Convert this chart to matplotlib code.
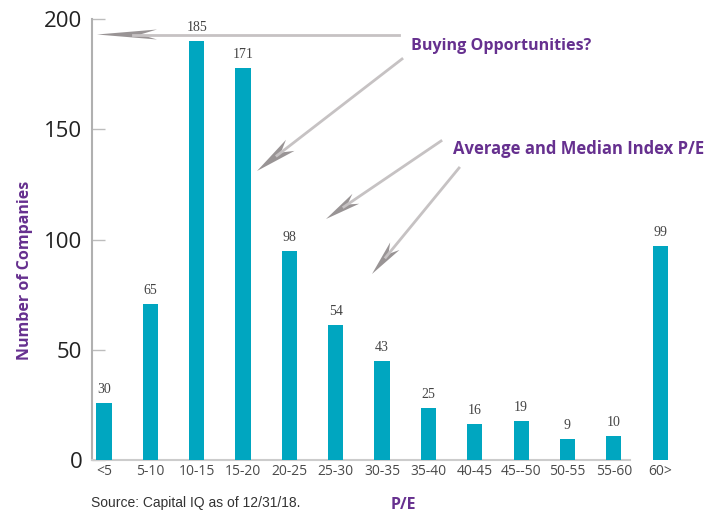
import matplotlib.pyplot as plt
from matplotlib.patches import Polygon
import numpy as np

categories = ["<5", "5-10", "10-15", "15-20", "20-25", "25-30", "30-35",
              "35-40", "40-45", "45--50", "50-55", "55-60", "60>"]
# bar heights as drawn in the picture (they differ a bit from the printed labels)
heights = [25.7, 70.8, 190.1, 177.9, 94.8, 61.3, 44.9, 23.6, 16.3, 17.7, 9.5, 10.9, 97.1]
labels = ["30", "65", "185", "171", "98", "54", "43", "25", "16", "19", "9", "10", "99"]

purple = "#66308f"
teal = "#00a6c0"
W, H = 717, 514

fig = plt.figure(figsize=(W / 100, H / 100), dpi=100)
ax = fig.add_axes([92 / W, (H - 460) / H, 608 / W, 441 / H])

x = np.arange(len(categories))
ax.bar(x, heights, width=0.33, color=teal, zorder=3)
for xi, h, lab in zip(x, heights, labels):
    ax.annotate(lab, (xi, h), xytext=(0, 5), textcoords="offset points",
                ha="center", va="bottom", fontsize=10, color="#444444",
                family="Liberation Serif")

step = 46.35
ax.set_xlim(-12 / step, (700 - 104) / step)
ax.set_ylim(0, 200)
ax.set_yticks([0, 50, 100, 150, 200])
ax.set_xticks(x)
ax.set_xticklabels(categories, fontsize=10, color="#4a4a4a", family="Open Sans")
ax.tick_params(axis="x", length=0, pad=3)
ax.tick_params(axis="y", direction="in", length=9.5, width=1, color="#bdbdbd",
               labelsize=16, labelcolor="#222222", pad=7)
for t in ax.get_yticklabels():
    t.set_family("Open Sans")

for s in ["top", "right"]:
    ax.spines[s].set_visible(False)
ax.spines["left"].set_color("#b0b0b0")
ax.spines["left"].set_linewidth(1.5)
ax.spines["bottom"].set_color("#cccccc")
ax.spines["bottom"].set_linewidth(1.5)
ax.spines["bottom"].set_bounds(-12 / step, (630 - 104) / step)

fig.text(25 / W, 1 - 270 / H, "Number of Companies", rotation=90, ha="center",
         va="center", fontsize=11.5, fontweight="bold", color=purple, family="Open Sans")
fig.text(403 / W, 1 - 505 / H, "P/E", ha="center", va="center", fontsize=11.5,
         fontweight="bold", color=purple, family="Open Sans")
fig.text(91 / W, 1 - 503 / H, "Source: Capital IQ as of 12/31/18.", ha="left", va="center",
         fontsize=10, color="#333333", family="Liberation Sans")
fig.text(411 / W, 1 - 46 / H, "Buying Opportunities?", ha="left", va="center",
         fontsize=11.6, fontweight="bold", color=purple, family="Open Sans")
fig.text(453 / W, 1 - 149 / H, "Average and Median Index P/E", ha="left", va="center",
         fontsize=12, fontweight="bold", color=purple, family="Open Sans")


def arrow(x0, y0, x1, y1, head=38, w=6):
    p0 = np.array([x0, H - y0], float)
    p1 = np.array([x1, H - y1], float)
    d = (p1 - p0) / np.linalg.norm(p1 - p0)
    n = np.array([-d[1], d[0]])
    end = p1 - d * head * 0.6
    fig.add_artist(plt.Line2D([p0[0] / W, end[0] / W], [p0[1] / H, end[1] / H],
                              transform=fig.transFigure, color="#c6c2c3", lw=2))
    pts = [p1, p1 - d * head + n * w, p1 - d * head * 0.72, p1 - d * head - n * w]
    pts = [(p[0] / W, p[1] / H) for p in pts]
    fig.add_artist(Polygon(pts, closed=True, transform=fig.transFigure,
                           facecolor="#999495", edgecolor="none"))


arrow(399, 34.5, 97, 34.5, head=60, w=5)
arrow(402, 59, 257, 171, head=42, w=7)
arrow(441, 141, 326, 219, head=36, w=6)
arrow(459, 168, 372, 274, head=36, w=6)

fig.savefig("out.png", dpi=100)
